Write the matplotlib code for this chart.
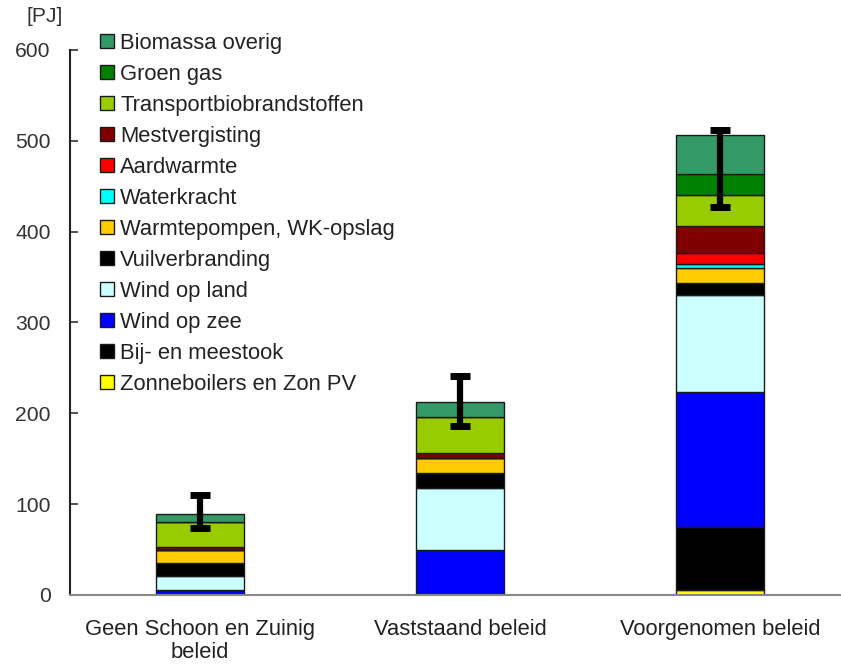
import matplotlib
matplotlib.use("Agg")
import matplotlib.pyplot as plt
import numpy as np

plt.rcParams['font.family'] = ['Liberation Sans', 'DejaVu Sans']

categories = ["Geen Schoon en Zuinig\nbeleid", "Vaststaand beleid", "Voorgenomen beleid"]

# series listed bottom -> top
series_names = [
    "Zonneboilers en Zon PV",
    "Bij- en meestook",
    "Wind op zee",
    "Wind op land",
    "Vuilverbranding",
    "Warmtepompen, WK-opslag",
    "Waterkracht",
    "Aardwarmte",
    "Mestvergisting",
    "Transportbiobrandstoffen",
    "Groen gas",
    "Biomassa overig",
]
series_colors = [
    "#FFFF00", "#000000", "#0000FF", "#CCFFFF", "#000000", "#FFCC00",
    "#00FFFF", "#FF0000", "#800000", "#99CC00", "#008000", "#339966",
]

zonneboilers = [0, 0, 5]
bij_meestook = [0, 0, 70]
wind_zee = [6, 50, 149]
wind_land = [15, 67.5, 106]
vuilverbranding = [14.5, 16.5, 13]
warmtepompen = [14, 16.5, 17]
waterkracht = [0, 0, 4]
aardwarmte = [0, 0, 12]
mestvergisting = [3, 5.5, 30]
transport = [27.5, 40, 34.5]
groen_gas = [0, 0, 23.5]
biomassa = [9.5, 17, 42.6]

series_values = [zonneboilers, bij_meestook, wind_zee, wind_land, vuilverbranding,
                 warmtepompen, waterkracht, aardwarmte, mestvergisting, transport,
                 groen_gas, biomassa]

err_low = [74, 186, 427]
err_high = [110, 241, 512]

yticks = [0, 100, 200, 300, 400, 500, 600]

FS = 15.8

fig = plt.figure(figsize=(8.41, 6.65), dpi=100)
ax = fig.add_axes([70/841, 70/665, 780/841, 545/665])

x = np.arange(len(categories))
bottom = np.zeros(len(categories))
handles = []
for name, col, vals in zip(series_names, series_colors, series_values):
    vals = np.array(vals, dtype=float)
    b = ax.bar(x, vals, width=0.335, bottom=bottom, color=col,
               edgecolor="#1a1a1a", linewidth=1.0, label=name, zorder=2)
    handles.append(b)
    bottom += vals

mid = (np.array(err_low) + np.array(err_high)) / 2
half = (np.array(err_high) - np.array(err_low)) / 2
ax.errorbar(x, mid, yerr=half, fmt='none', ecolor='black', elinewidth=4.5,
            capsize=7, capthick=5, zorder=3)

ax.set_xlim(-0.5, 2.5)
ax.set_ylim(0, 600)
ax.set_yticks(yticks)
ax.set_yticklabels([str(t) for t in yticks], fontsize=15.2, color="#333333")
ax.set_xticks(x)
ax.set_xticklabels(categories, fontsize=FS, color="#222222", linespacing=1.15)
ax.tick_params(axis='y', direction='in', length=6, width=1.2, pad=14, colors="#333333")
ax.tick_params(axis='x', length=0, pad=17)
for s in ['top', 'right']:
    ax.spines[s].set_visible(False)
ax.spines['left'].set_color('#222222')
ax.spines['left'].set_linewidth(1.5)
ax.spines['bottom'].set_color('#888888')
ax.spines['bottom'].set_linewidth(1.5)

fig.text(45/841, 1 - 17/665, "[PJ]", fontsize=15.2, color="#333333",
         ha='center', va='center')

leg = fig.legend(handles[::-1], series_names[::-1], loc='upper left',
                 bbox_to_anchor=(100/841, 1 - 33/665), frameon=False,
                 fontsize=FS, borderpad=0, borderaxespad=0,
                 handlelength=0.62, handleheight=0.62, handletextpad=0.3,
                 labelspacing=0.455)
for t in leg.get_texts():
    t.set_color('#222222')

fig.savefig("out.png", dpi=100)
